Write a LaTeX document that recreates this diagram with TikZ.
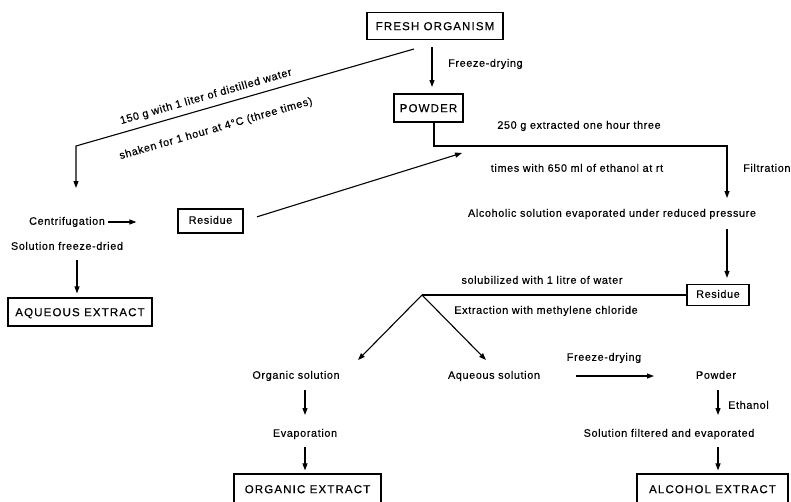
\documentclass[tikz,border=0pt]{standalone}
\usepackage{fontspec}
\setmainfont{Liberation Sans}[LetterSpace=6, FakeBold=0.4]
\usetikzlibrary{arrows.meta}
\begin{document}
\begin{tikzpicture}[x=1pt,y=-1pt,
  lbl/.style={font=\fontsize{10.8}{12}\selectfont, inner sep=0pt, text height=7.5pt, text depth=2pt},
  frame/.style={draw, line width=1.2pt, inner sep=0pt},
  box/.style={frame, font=\fontsize{11.5}{13}\selectfont\addfontfeature{LetterSpace=10}, text height=8.3pt, text depth=0pt},
  rbox/.style={frame, font=\fontsize{10.8}{12}\selectfont, text height=7.5pt, text depth=2pt},
  conn/.style={line width=1.1pt},
  arr/.style={conn, -{Triangle[length=7pt,width=5pt]}}]
\clip (0,0) rectangle (791,501);
% boxes
\node[box, minimum width=136, minimum height=27] (fresh) at (435,26) {FRESH ORGANISM};
\node[box, minimum width=69, minimum height=28] (powder) at (428.5,108) {POWDER};
\node[rbox, minimum width=65, minimum height=24] (resL) at (210.5,221) {Residue};
\node[rbox, minimum width=62, minimum height=21] (resR) at (718,295) {Residue};
\node[box, minimum width=144, minimum height=28] (aqext) at (80,312) {AQUEOUS EXTRACT};
\node[box, minimum width=147, minimum height=30] (orgext) at (307.5,489) {ORGANIC EXTRACT};
\node[box, minimum width=151, minimum height=30] (alcext) at (712.5,489) {ALCOHOL EXTRACT};
% labels
\node[lbl, anchor=west] (fd1) at (448,64) {Freeze-drying};
\node[lbl, rotate=16] (t150) at (206,97) {150 g with 1 liter of distilled water};
\node[lbl, rotate=16] (tshake) at (216,129) {shaken for 1 hour at 4°C (three times)};
\node[lbl] (t250) at (579,126) {250 g extracted one hour three};
\node[lbl] (ttimes) at (577,169) {times with 650 ml of ethanol at rt};
\node[lbl, anchor=west] (tfilt) at (743,169) {Filtration};
\node[lbl] (alc) at (612,214) {Alcoholic solution evaporated under reduced pressure};
\node[lbl] (centri) at (67,222) {Centrifugation};
\node[lbl] (solfd) at (67,247) {Solution freeze-dried};
\node[lbl] (tsolub) at (542,281) {solubilized with 1 litre of water};
\node[lbl] (textr) at (546,311) {Extraction with methylene chloride};
\node[lbl] (orgsol) at (296,376) {Organic solution};
\node[lbl] (aqsol) at (494,376) {Aqueous solution};
\node[lbl] (fd2) at (604,358) {Freeze-drying};
\node[lbl] (powder2) at (716,376) {Powder};
\node[lbl, anchor=west] (eth) at (728,406) {Ethanol};
\node[lbl] (evap) at (305,434) {Evaporation};
\node[lbl] (solfilt) at (669,434) {Solution filtered and evaporated};
% coordinates
\coordinate (c1) at (414,49);
\coordinate (c2) at (76,146);
\coordinate (c3) at (76,188);
\coordinate (c4) at (727,146);
\coordinate (ctip) at (462,153);
\coordinate (apex) at (422,295);
\coordinate (tl) at (358,360);
\coordinate (tr) at (486,360);
% connectors
\draw[arr] (c1) -- (c2) -- (c3);
\draw[arr, shorten <=21pt, shorten >=21pt] ([xshift=-3pt]fresh.center) -- ([xshift=3.5pt]powder.center);
\draw[arr, shorten >=11pt] ([xshift=5.5pt]powder.south) |- (c4) -- (c4 |- alc.north);
\draw[arr, shorten <=10pt, shorten >=6pt] (c4 |- alc.south) -- (c4 |- resR.north);
\draw[conn] (resR.west) -- (apex);
\draw[arr] (apex) -- (tl);
\draw[arr] (apex) -- (tr);
\draw[arr, shorten <=14pt, shorten >=19pt] (orgsol.center -| evap.center) -- (evap.center);
\draw[arr, shorten <=13pt, shorten >=3pt] (evap.center) -- (evap.center |- orgext.north);
\draw[arr, shorten <=82pt, shorten >=62pt] (aqsol.center) -- (aqsol.center -| powder2.center);
\draw[arr, shorten <=14pt, shorten >=19pt] ([xshift=2pt]powder2.center) -- ([xshift=2pt]powder2.center |- evap.center);
\draw[arr, shorten <=13pt, shorten >=3pt] ([xshift=2pt]powder2.center |- evap.center) -- ([xshift=2pt]powder2.center |- alcext.north);
\draw[arr, shorten <=41pt, shorten >=41pt] (centri.center) -- (centri.center -| resL.west);
\draw[arr, shorten <=14pt] (resL.east) -- (ctip);
\draw[arr, shorten <=13pt, shorten >=4pt] ([xshift=10pt]solfd.center) -- ([xshift=10pt]solfd.center |- aqext.north);
\end{tikzpicture}
\end{document}
